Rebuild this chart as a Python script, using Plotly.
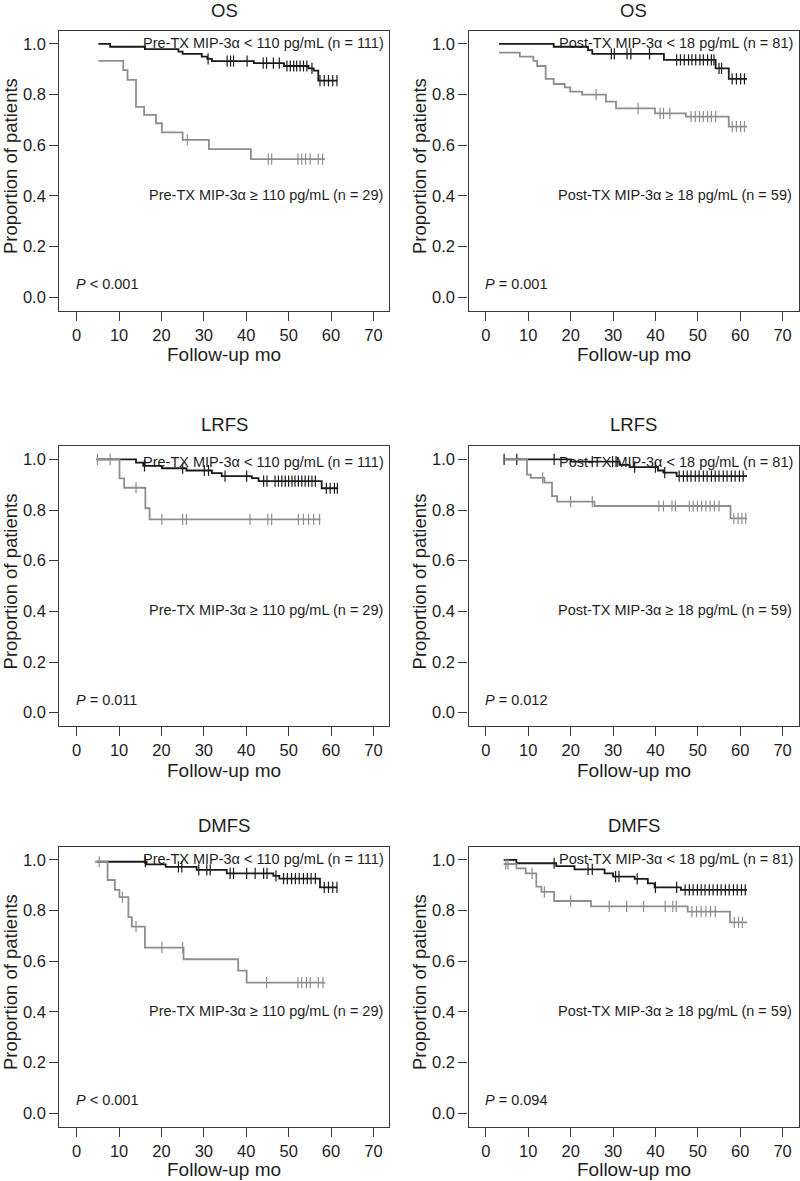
import plotly.graph_objects as go

# Kaplan-Meier curves.
# *_t: curve start, step times, end of follow-up; *_s: survival from that time on; *_c: censor marks

# OS, pre-treatment MIP-3a
os_pre_low_t = [5.1, 7.9, 16.1, 24.0, 25.0, 29.5, 30.8, 31.9, 41.8, 48.9, 54.7, 55.9, 57.0, 61.5]
os_pre_low_s = [1.0, 0.989, 0.980, 0.970, 0.961, 0.950, 0.941, 0.932, 0.924, 0.913, 0.904, 0.895, 0.855, 0.855]
os_pre_low_c = [31.0, 35.5, 36.3, 37.0, 40.2, 44.0, 44.8, 46.4, 47.8, 49.6, 50.4, 51.2, 51.9, 52.7,
                53.5, 54.3, 55.5, 57.4, 58.4, 59.4, 60.4, 61.4]
os_pre_high_t = [5.1, 11.0, 12.0, 14.0, 15.9, 18.7, 20.1, 25.0, 31.2, 41.1, 58.6]
os_pre_high_s = [0.933, 0.897, 0.858, 0.752, 0.720, 0.687, 0.651, 0.621, 0.585, 0.545, 0.545]
os_pre_high_c = [26.1, 45.2, 46.0, 52.2, 53.1, 54.0, 55.1, 57.0, 58.0]

# OS, post-treatment MIP-3a
os_post_low_t = [3.1, 16.0, 24.1, 25.1, 42.0, 54.2, 57.3, 61.6]
os_post_low_s = [1.0, 0.989, 0.976, 0.961, 0.937, 0.904, 0.862, 0.862]
os_post_low_c = [29.6, 30.3, 33.3, 34.2, 38.6, 45.0, 45.9, 46.8, 47.8, 48.6, 49.5, 50.5, 51.3, 52.3,
                 53.2, 53.8, 55.0, 55.6, 58.1, 59.1, 60.1, 61.0]
os_post_high_t = [3.1, 8.0, 11.2, 12.1, 14.1, 16.0, 18.6, 19.9, 22.7, 28.3, 30.7, 39.9, 47.2, 57.3, 61.6]
os_post_high_s = [0.966, 0.950, 0.933, 0.913, 0.862, 0.842, 0.829, 0.812, 0.800, 0.772, 0.746, 0.726,
                  0.713, 0.674, 0.674]
os_post_high_c = [26.0, 35.9, 41.1, 41.9, 43.4, 48.4, 49.4, 50.4, 51.3, 52.3, 53.2, 54.2, 58.1, 59.1,
                  60.1, 61.0]

# LRFS, pre-treatment
lrfs_pre_low_t = [4.7, 14.0, 15.7, 20.1, 25.9, 31.9, 34.2, 41.3, 42.9, 57.8, 61.7]
lrfs_pre_low_s = [1.0, 0.987, 0.974, 0.965, 0.956, 0.946, 0.934, 0.926, 0.914, 0.886, 0.886]
lrfs_pre_low_c = [16.0, 25.0, 30.1, 31.1, 35.0, 40.1, 44.1, 44.9, 46.8, 47.6, 48.4, 49.2, 50.0, 50.8,
                  51.5, 52.3, 53.1, 53.9, 54.7, 55.5, 56.3, 58.9, 59.8, 60.8, 61.5]
lrfs_pre_high_t = [4.7, 10.1, 11.2, 16.2, 17.2, 57.5]
lrfs_pre_high_s = [1.0, 0.925, 0.888, 0.807, 0.763, 0.763]
lrfs_pre_high_c = [4.9, 7.9, 14.0, 20.1, 25.0, 25.9, 40.9, 45.1, 46.0, 52.3, 53.5, 54.7, 55.9, 57.3]

# LRFS, post-treatment
lrfs_post_low_t = [4.2, 20.1, 31.5, 33.9, 40.6, 41.9, 45.0, 61.6]
lrfs_post_low_s = [1.0, 0.991, 0.978, 0.969, 0.956, 0.948, 0.934, 0.934]
lrfs_post_low_c = [4.3, 7.3, 16.1, 25.1, 29.9, 30.7, 35.1, 40.0, 42.2, 45.6, 46.6, 47.5, 48.4, 49.4,
                   50.3, 51.3, 52.2, 53.2, 54.1, 55.0, 56.0, 56.9, 57.9, 58.8, 59.8, 60.7]
lrfs_post_high_t = [4.2, 9.7, 10.6, 13.8, 15.6, 16.8, 25.6, 57.7, 61.6]
lrfs_post_high_s = [1.0, 0.940, 0.927, 0.908, 0.855, 0.833, 0.816, 0.767, 0.767]
lrfs_post_high_c = [13.4, 20.0, 25.1, 40.8, 41.9, 43.9, 44.7, 48.0, 48.9, 49.9, 50.9, 51.9, 52.9,
                    53.9, 55.0, 58.5, 59.5, 60.4, 61.3]

# DMFS, pre-treatment
dmfs_pre_low_t = [4.7, 16.5, 21.0, 28.3, 35.4, 46.4, 47.8, 57.4, 61.5]
dmfs_pre_low_s = [0.993, 0.983, 0.973, 0.961, 0.947, 0.937, 0.926, 0.892, 0.892]
dmfs_pre_low_c = [16.2, 24.0, 24.8, 28.8, 30.7, 31.5, 36.2, 37.0, 40.1, 42.1, 44.1, 44.9, 47.0, 48.8,
                  49.7, 50.7, 51.6, 52.5, 53.5, 54.4, 55.3, 56.3, 58.4, 59.4, 60.4, 61.4]
dmfs_pre_high_t = [4.3, 7.3, 9.0, 10.1, 12.2, 13.0, 16.1, 25.2, 38.1, 40.1, 58.6]
dmfs_pre_high_s = [0.993, 0.921, 0.882, 0.853, 0.774, 0.737, 0.654, 0.608, 0.563, 0.516, 0.516]
dmfs_pre_high_c = [5.3, 10.8, 14.0, 20.1, 25.0, 44.8, 52.2, 53.1, 54.2, 55.1, 57.0, 58.1]

# DMFS, post-treatment
dmfs_post_low_t = [4.2, 7.2, 16.6, 20.9, 28.0, 30.0, 35.1, 38.2, 39.8, 46.0, 61.6]
dmfs_post_low_s = [1.0, 0.987, 0.976, 0.963, 0.947, 0.934, 0.925, 0.908, 0.892, 0.882, 0.882]
dmfs_post_low_c = [16.1, 24.1, 25.1, 30.6, 31.4, 35.7, 40.0, 45.0, 47.0, 48.0, 48.9, 49.9, 50.8, 51.7,
                   52.7, 53.6, 54.6, 55.5, 56.5, 57.4, 58.4, 59.3, 60.3, 61.2]
dmfs_post_high_t = [4.2, 7.2, 9.4, 11.9, 13.1, 16.1, 24.8, 47.6, 57.6, 61.6]
dmfs_post_high_s = [0.984, 0.967, 0.947, 0.895, 0.874, 0.838, 0.817, 0.796, 0.754, 0.754]
dmfs_post_high_c = [4.7, 5.2, 10.9, 13.8, 20.0, 29.1, 33.2, 37.2, 42.3, 44.1, 44.9, 48.6, 49.7, 50.8,
                    51.9, 53.0, 54.1, 58.6, 59.6, 60.5]

titles = ["OS", "OS", "LRFS", "LRFS", "DMFS", "DMFS"]
p_texts = ["< 0.001", "= 0.001", "= 0.011", "= 0.012", "< 0.001", "= 0.094"]
low_labels = ["Pre-TX MIP-3α < 110 pg/mL (n = 111)", "Post-TX MIP-3α < 18 pg/mL (n = 81)"]
high_labels = ["Pre-TX MIP-3α ≥ 110 pg/mL (n = 29)", "Post-TX MIP-3α ≥ 18 pg/mL (n = 59)"]
x_ticks = [0, 10, 20, 30, 40, 50, 60, 70]
y_ticks = [0.0, 0.2, 0.4, 0.6, 0.8, 1.0]

panels = [
    ((os_pre_low_t, os_pre_low_s, os_pre_low_c), (os_pre_high_t, os_pre_high_s, os_pre_high_c)),
    ((os_post_low_t, os_post_low_s, os_post_low_c), (os_post_high_t, os_post_high_s, os_post_high_c)),
    ((lrfs_pre_low_t, lrfs_pre_low_s, lrfs_pre_low_c), (lrfs_pre_high_t, lrfs_pre_high_s, lrfs_pre_high_c)),
    ((lrfs_post_low_t, lrfs_post_low_s, lrfs_post_low_c), (lrfs_post_high_t, lrfs_post_high_s, lrfs_post_high_c)),
    ((dmfs_pre_low_t, dmfs_pre_low_s, dmfs_pre_low_c), (dmfs_pre_high_t, dmfs_pre_high_s, dmfs_pre_high_c)),
    ((dmfs_post_low_t, dmfs_post_low_s, dmfs_post_low_c), (dmfs_post_high_t, dmfs_post_high_s, dmfs_post_high_c)),
]

W, H = 800, 1181
FONT = "Liberation Sans, Arial, sans-serif"
TXT = "#1e1e1e"
FRAME = "#3a3a3a"
BLACK = "#1a1a1a"
GREY = "#8e8e8e"

x_dom = [[59.3 / W, 389.3 / W], [468.5 / W, 798.5 / W]]
row_px = [(30.8, 310.7), (446.2, 726.1), (846.8, 1126.7)]  # frame top/bottom in pixels
y_dom = [[1 - b / H, 1 - t / H] for t, b in row_px]
title_py = [10.0, 424.0, 825.0]
xtitle_py = [354.0, 770.0, 1169.5]
ytitle_px = [10.0, 419.0]
upper_y = [1.005, 0.991, 1.003]


def surv_at(t, s, c):
    """value of the step curve at time c"""
    v = s[0]
    for ti, si in zip(t, s):
        if ti <= c:
            v = si
    return v


fig = go.Figure()
annotations = []
layout = {}

for i, (low, high) in enumerate(panels):
    row, col = i // 2, i % 2
    n = i + 1
    xa, ya = "x" if n == 1 else f"x{n}", "y" if n == 1 else f"y{n}"

    for (t, s, c), color in [(low, BLACK), (high, GREY)]:
        fig.add_trace(go.Scatter(x=t, y=s, mode="lines", line=dict(color=color, width=1.8, shape="hv"),
                                 xaxis=xa, yaxis=ya, hoverinfo="skip", showlegend=False))
        fig.add_trace(go.Scatter(x=c, y=[surv_at(t, s, v) for v in c], mode="markers",
                                 marker=dict(symbol="line-ns", size=8, line=dict(color=color, width=1.2)),
                                 xaxis=xa, yaxis=ya, hoverinfo="skip", showlegend=False))

    layout[f"xaxis{n}"] = dict(domain=x_dom[col], anchor=ya, range=[-4.1, 73.75], tickvals=x_ticks,
                               ticks="outside", ticklen=9, tickwidth=1.1, tickcolor=FRAME,
                               showline=True, mirror=True, linecolor=FRAME, linewidth=1.3,
                               showgrid=False, zeroline=False,
                               tickfont=dict(family=FONT, size=16.5, color=TXT))
    layout[f"yaxis{n}"] = dict(domain=y_dom[row], anchor=xa, range=[-0.053, 1.052], tickvals=y_ticks,
                               tickformat=".1f", ticks="outside", ticklen=9, tickwidth=1.1, tickcolor=FRAME,
                               showline=True, mirror=True, linecolor=FRAME, linewidth=1.3,
                               showgrid=False, zeroline=False,
                               tickfont=dict(family=FONT, size=16.5, color=TXT))

    xc = (x_dom[col][0] + x_dom[col][1]) / 2
    annotations += [
        dict(text=titles[i], xref="paper", yref="paper", x=xc, y=1 - title_py[row] / H,
             xanchor="center", yanchor="middle", showarrow=False, font=dict(family=FONT, size=18.5, color=TXT)),
        dict(text="Follow-up mo", xref="paper", yref="paper", x=xc, y=1 - xtitle_py[row] / H,
             xanchor="center", yanchor="middle", showarrow=False, font=dict(family=FONT, size=19, color=TXT)),
        dict(text="Proportion of patients", xref="paper", yref="paper", x=ytitle_px[col] / W,
             y=(y_dom[row][0] + y_dom[row][1]) / 2 + 0.004, textangle=-90,
             xanchor="center", yanchor="middle", showarrow=False, font=dict(family=FONT, size=18.5, color=TXT)),
        dict(text=low_labels[col], xref=xa, yref=ya, x=73.0, y=upper_y[row], xanchor="right",
             yanchor="middle", showarrow=False, font=dict(family=FONT, size=14.5, color=TXT)),
        dict(text=high_labels[col], xref=xa, yref=ya, x=72.8, y=0.405, xanchor="right",
             yanchor="middle", showarrow=False, font=dict(family=FONT, size=14.5, color=TXT)),
        dict(text=f"<i>P</i> {p_texts[i]}", xref=xa, yref=ya, x=-0.7, y=0.052, xanchor="left",
             yanchor="middle", showarrow=False, font=dict(family=FONT, size=14.5, color=TXT)),
    ]

fig.update_layout(
    width=W, height=H,
    margin=dict(l=0, r=0, t=0, b=0),
    paper_bgcolor="white", plot_bgcolor="white",
    showlegend=False,
    annotations=annotations,
    **layout,
)

# drop the browser's default page margin so the 800x1181 figure fills the window exactly
fig.write_html("out.html", config={"displayModeBar": False},
               post_script="document.body.style.margin='0';document.body.style.overflow='hidden';")
